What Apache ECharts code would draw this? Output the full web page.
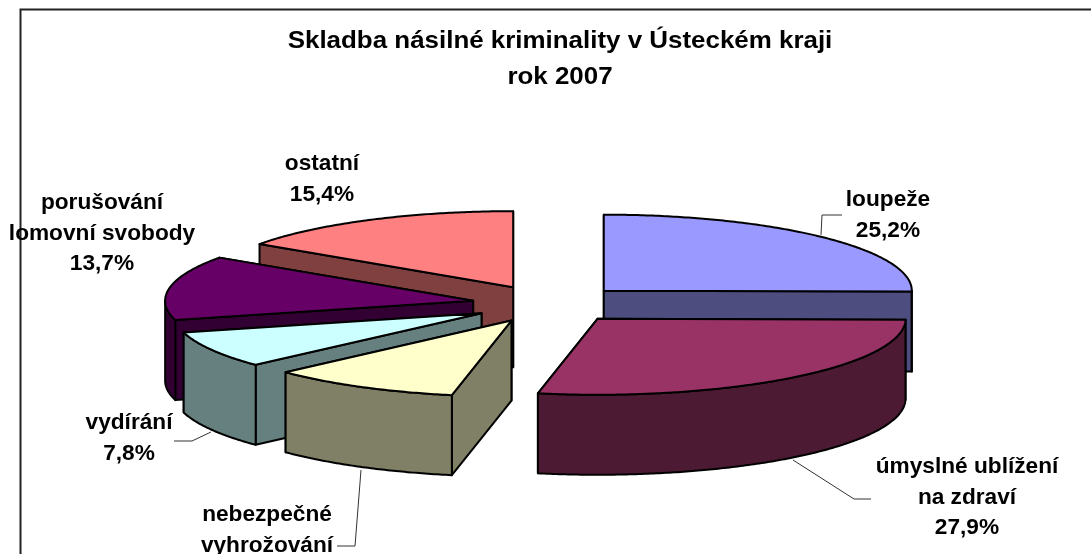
<!DOCTYPE html>
<html><head><meta charset="utf-8">
<style>html,body{margin:0;padding:0;background:#fff}#c{width:1091px;height:554px}</style>
<script src="https://cdn.jsdelivr.net/npm/echarts@6/dist/echarts.min.js"></script>
</head><body><div id="c"></div>
<script>
const titleLines = ['Skladba násilné kriminality v Ústeckém kraji', 'rok 2007'];
const categories = ['loupeže', 'úmyslné ublížení\nna zdraví', 'nebezpečné\nvyhrožování', 'vydírání', 'porušování\nlomovní svobody', 'ostatní'];
const shares = [25.2, 27.9, 10.0, 7.8, 13.7, 15.4];
const shownPercent = [true, true, false, true, true, true];
const topColors = ['#9999FF', '#993366', '#FFFFCC', '#CCFFFF', '#660066', '#FF8080'];
const sideColors = ['#4D4D80', '#4D1A33', '#808066', '#668080', '#330033', '#804040'];

// view of the tilted pie
const pie = {cx: 549, cy: 304, rx: 308, ry: 76, depth: 80, explode: 0.25};
// label anchors (centre x, first line y) and leader lines
const labelPos = [[888, 200], [967, 467], [267, 515], [129, 423], [102, 203], [322, 164]];
const leaders = [
  [[842, 215], [822, 215], [821, 235]],
  [[871, 499], [854, 499], [793, 460]],
  [[337, 546], [355, 546], [361, 470]],
  [[174, 441], [192, 441], [211, 432]],
  null, null
];
const font = {fontFamily: '"Liberation Sans", Arial, sans-serif', fontWeight: 'bold'};
const labelSize = 22, labelStretch = 1.03, lineH = 30.7;
const titleSize = 24, titleStretch = 1.08;

const total = shares.reduce((a, b) => a + b, 0);
let acc = 0;
const slices = shares.map((v, i) => {
  const a0 = acc / total * 2 * Math.PI; acc += v;
  const a1 = acc / total * 2 * Math.PI;
  const mid = (a0 + a1) / 2;
  return {i, a0, a1,
    ox: pie.cx + pie.explode * pie.rx * Math.sin(mid),
    oy: pie.cy - pie.explode * pie.ry * Math.cos(mid)};
});
const drawOrder = slices.slice().sort((p, q) => p.oy - q.oy);

function rim(s, a, dz) {
  return [s.ox + pie.rx * Math.sin(a), s.oy - pie.ry * Math.cos(a) + (dz || 0)];
}
function arcPts(s, a0, a1, dz) {
  const n = Math.max(2, Math.ceil((a1 - a0) / 0.01)), out = [];
  for (let k = 0; k <= n; k++) out.push(rim(s, a0 + (a1 - a0) * k / n, dz));
  return out;
}
function poly(points, fill) {
  return {type: 'polygon', shape: {points}, style: {fill, stroke: '#000', lineWidth: 2, lineJoin: 'round'}};
}
function renderSlice(params) {
  const s = drawOrder[params.dataIndex], d = pie.depth, kids = [];
  const side = sideColors[s.i];
  const wall = a => {
    const r = rim(s, a);
    return {y: r[1], el: poly([[s.ox, s.oy], r, rim(s, a, d), [s.ox, s.oy + d]], side)};
  };
  [wall(s.a0), wall(s.a1)].sort((p, q) => p.y - q.y).forEach(w => kids.push(w.el));
  const f0 = Math.max(s.a0, Math.PI / 2), f1 = Math.min(s.a1, Math.PI * 1.5);
  if (f1 > f0) {
    kids.push(poly(arcPts(s, f0, f1, 0).concat(arcPts(s, f0, f1, d).reverse()), side));
  }
  kids.push(poly([[s.ox, s.oy]].concat(arcPts(s, s.a0, s.a1, 0)), topColors[s.i]));
  return {type: 'group', children: kids};
}
function renderLabel(params) {
  const i = params.dataIndex, kids = [];
  if (leaders[i]) kids.push({type: 'polyline', shape: {points: leaders[i]}, style: {fill: null, stroke: '#333', lineWidth: 1}});
  const lines = categories[i].split('\n');
  if (shownPercent[i]) lines.push(shares[i].toFixed(1).replace('.', ',') + '%');
  lines.forEach((t, k) => kids.push({type: 'text', x: labelPos[i][0], y: labelPos[i][1] + k * lineH, scaleX: labelStretch, style: {
    text: t, x: 0, y: 0, align: 'center', verticalAlign: 'middle',
    fontSize: labelSize, fontFamily: font.fontFamily, fontWeight: font.fontWeight, fill: '#000'}}));
  return {type: 'group', children: kids};
}

const chart = echarts.init(document.getElementById('c'), null, {renderer: 'canvas'});
chart.setOption({
  animation: false,
  backgroundColor: '#fff',
  graphic: [
    {type: 'polyline', z: 0, shape: {points: [[20.5, 554], [20.5, 9.5], [1091, 9.5]]}, style: {fill: null, stroke: '#222', lineWidth: 2}},
    {type: 'text', z: 5, x: 560, y: 41, scaleX: titleStretch, style: {text: titleLines[0], x: 0, y: 0, align: 'center', verticalAlign: 'middle', fontSize: titleSize, fontFamily: font.fontFamily, fontWeight: font.fontWeight, fill: '#000'}},
    {type: 'text', z: 5, x: 560, y: 77, scaleX: titleStretch, style: {text: titleLines[1], x: 0, y: 0, align: 'center', verticalAlign: 'middle', fontSize: titleSize, fontFamily: font.fontFamily, fontWeight: font.fontWeight, fill: '#000'}}
  ],
  series: [
    {type: 'custom', coordinateSystem: 'none', z: 2, silent: true, data: drawOrder.map(s => shares[s.i]), renderItem: renderSlice},
    {type: 'custom', coordinateSystem: 'none', z: 3, silent: true, data: shares, renderItem: renderLabel}
  ]
});
</script></body></html>
